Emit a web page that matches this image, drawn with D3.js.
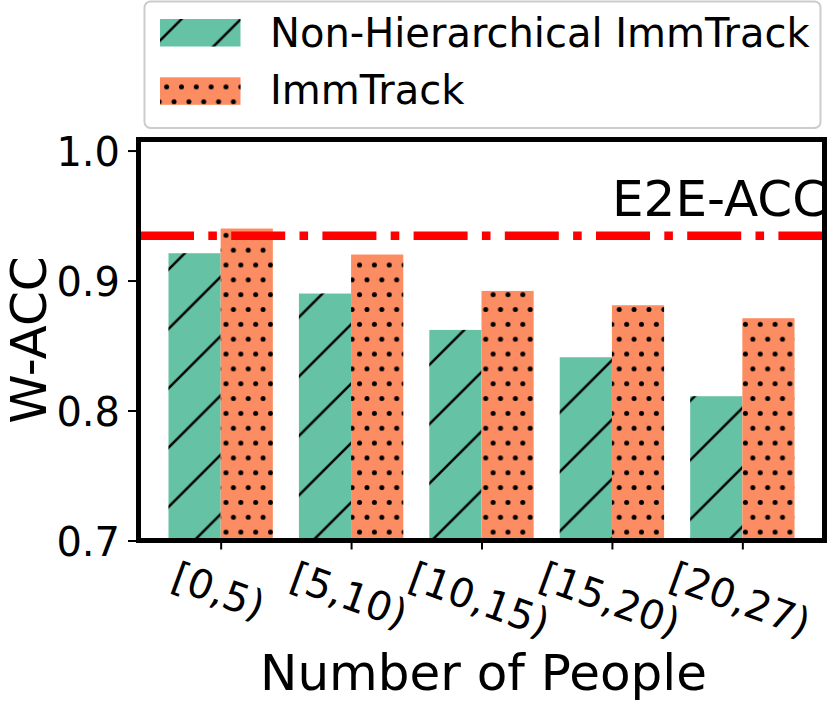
<!DOCTYPE html>
<html>
<head>
<meta charset="utf-8">
<script src="https://cdn.jsdelivr.net/npm/d3@7"></script>
<style>
  body { margin: 0; background: #fff; }
  svg { display: block; font-family: "DejaVu Sans", sans-serif; }
</style>
</head>
<body>
<div id="chart-area"></div>
<script>
// data
const categories = ["[0,5)", "[5,10)", "[10,15)", "[15,20)", "[20,27)"];
const nonHierarchical = [0.921, 0.890, 0.862, 0.841, 0.811];
const immTrack = [0.940, 0.920, 0.892, 0.881, 0.871];
const e2eAcc = 0.9345;
const yTicks = [0.7, 0.8, 0.9, 1.0];
const seriesNames = ["Non-Hierarchical ImmTrack", "ImmTrack"];

const W = 830, H = 704;
const plot = { left: 138.5, right: 824.5, top: 139.5, bottom: 540.5 };
const green = "#66c2a5", orange = "#fc8d62";
const barW = 0.4;

const svg = d3.select("#chart-area").append("svg")
    .attr("width", W)
    .attr("height", H);

const x = d3.scaleLinear().domain([-0.63, categories.length - 1 + 0.63]).range([plot.left, plot.right]);
const y = d3.scaleLinear().domain([0.7, 1.0085]).range([plot.bottom, plot.top]);

// hatch patterns, anchored to the page like matplotlib does
const defs = svg.append("defs");
const P = 59.36;
const slash = defs.append("pattern")
    .attr("id", "slash")
    .attr("patternUnits", "userSpaceOnUse")
    .attr("x", 22.5).attr("y", 0)
    .attr("width", P).attr("height", P);
slash.append("path")
    .attr("d", `M0,${P}L${P},0M-5,5L5,-5M${P - 5},${P + 5}L${P + 5},${P - 5}`)
    .attr("stroke", "#000").attr("stroke-width", 2.5);

const p = 14.84;
const dots = defs.append("pattern")
    .attr("id", "dots")
    .attr("patternUnits", "userSpaceOnUse")
    .attr("x", 226 - p / 2).attr("y", 265 - p / 2)
    .attr("width", p).attr("height", 2 * p);
[[p / 2, p / 2], [0, 1.5 * p], [p, 1.5 * p]].forEach(([cx, cy]) => {
    dots.append("circle").attr("cx", cx).attr("cy", cy).attr("r", 2.5).attr("fill", "#000");
});

defs.append("clipPath").attr("id", "plot-clip")
    .append("rect")
    .attr("x", plot.left).attr("y", plot.top)
    .attr("width", plot.right - plot.left).attr("height", plot.bottom - plot.top);

const g = svg.append("g").attr("clip-path", "url(#plot-clip)");

// bars
function drawBars(values, offset, color, hatch) {
    const grp = g.append("g");
    grp.selectAll("rect.fill").data(values).join("rect")
        .attr("class", "fill")
        .attr("x", (d, i) => x(i + offset))
        .attr("width", (d, i) => x(i + offset + barW) - x(i + offset))
        .attr("y", d => y(d))
        .attr("height", d => y(0.7) - y(d) + 5)
        .attr("fill", color);
    grp.selectAll("rect.hatch").data(values).join("rect")
        .attr("class", "hatch")
        .attr("x", (d, i) => x(i + offset))
        .attr("width", (d, i) => x(i + offset + barW) - x(i + offset))
        .attr("y", d => y(d))
        .attr("height", d => y(0.7) - y(d) + 5)
        .attr("fill", `url(#${hatch})`);
}
drawBars(nonHierarchical, -barW, green, "slash");
drawBars(immTrack, 0, orange, "dots");

// E2E reference line
g.append("line")
    .attr("x1", plot.left + 1.5).attr("x2", plot.right)
    .attr("y1", y(e2eAcc)).attr("y2", y(e2eAcc))
    .attr("stroke", "#ff0000")
    .attr("stroke-width", 8.6)
    .attr("stroke-dasharray", "54,14.3,8.6,14.3");

g.append("text")
    .attr("x", 612)
    .attr("y", 216)
    .attr("font-size", 50)
    .attr("fill", "#000")
    .text("E2E-ACC");

// axes
const yAxis = svg.append("g")
    .attr("transform", `translate(${plot.left},0)`)
    .call(d3.axisLeft(y).tickValues(yTicks).tickFormat(d3.format(".1f")).tickSize(10.5).tickPadding(8));
yAxis.select(".domain").remove();
yAxis.selectAll(".tick line").attr("stroke-width", 2);
yAxis.selectAll(".tick text")
    .attr("font-size", 40)
    .attr("font-family", "DejaVu Sans")
    .attr("fill", "#000")
    .attr("dy", "0.365em");

const xAxis = svg.append("g")
    .attr("transform", `translate(0,${plot.bottom})`)
    .call(d3.axisBottom(x).tickValues(d3.range(categories.length)).tickFormat("").tickSize(9));
xAxis.select(".domain").remove();
xAxis.selectAll(".tick line").attr("stroke-width", 2);

// rotated category labels, centred under the tick like matplotlib
const angle = 20, rad = angle * Math.PI / 180, labelTop = 553;
categories.forEach((c, i) => {
    const t = svg.append("text")
        .attr("font-size", 40)
        .attr("text-anchor", "middle")
        .attr("fill", "#000")
        .text(c);
    const b = t.node().getBBox();
    const rh = b.width * Math.sin(rad) + b.height * Math.cos(rad);
    const cy = labelTop + rh / 2;
    t.attr("transform", `translate(${x(i) - 2},${cy}) rotate(${angle}) translate(0,${-(b.y + b.height / 2)})`);
});

// spines
svg.append("rect")
    .attr("x", plot.left).attr("y", plot.top)
    .attr("width", plot.right - plot.left).attr("height", plot.bottom - plot.top)
    .attr("fill", "none")
    .attr("stroke", "#000")
    .attr("stroke-width", 5);

// axis titles
svg.append("text")
    .attr("x", (plot.left + plot.right) / 2 + 2)
    .attr("y", 690)
    .attr("text-anchor", "middle")
    .attr("font-size", 50)
    .text("Number of People");

svg.append("text")
    .attr("transform", `translate(46,${(plot.top + plot.bottom) / 2}) rotate(-90)`)
    .attr("text-anchor", "middle")
    .attr("font-size", 50)
    .text("W-ACC");

// legend
const legend = svg.append("g");
legend.append("rect")
    .attr("x", 144.5).attr("y", 1.5)
    .attr("width", 676).attr("height", 126.5)
    .attr("rx", 6)
    .attr("fill", "#fff").attr("fill-opacity", 0.8)
    .attr("stroke", "#cccccc").attr("stroke-width", 2);

const legendRows = [
    { name: seriesNames[0], color: green, hatch: "slash", top: 19, base: 46.7 },
    { name: seriesNames[1], color: orange, hatch: "dots", top: 77.3, base: 103.5 }
];
legendRows.forEach(r => {
    legend.append("rect").attr("x", 160).attr("y", r.top).attr("width", 80.5).attr("height", 27.5).attr("fill", r.color);
    legend.append("rect").attr("x", 160).attr("y", r.top).attr("width", 80.5).attr("height", 27.5).attr("fill", `url(#${r.hatch})`);
    legend.append("text")
        .attr("x", 270).attr("y", r.base)
        .attr("font-size", 40)
        .text(r.name);
});
</script>
</body>
</html>
